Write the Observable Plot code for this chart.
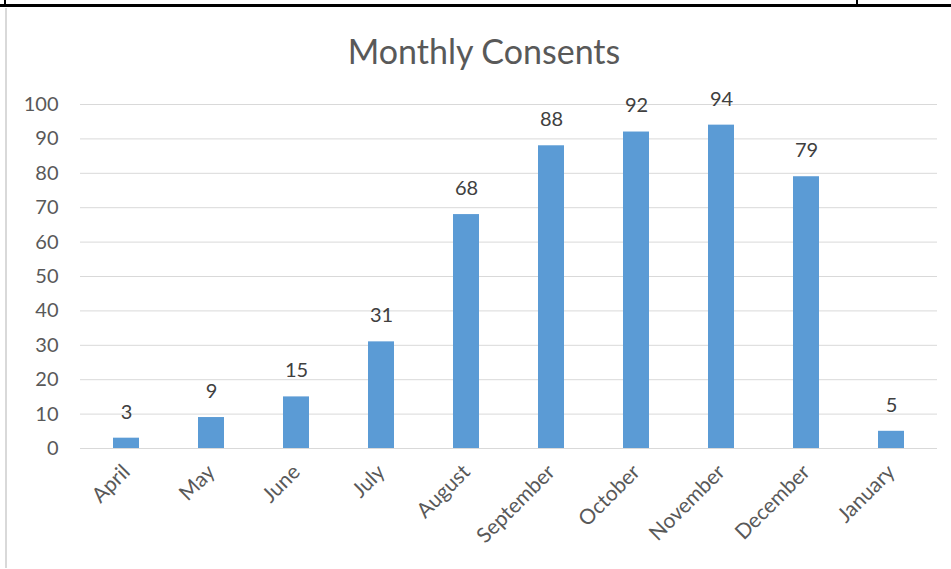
<!DOCTYPE html>
<html>
<head>
<meta charset="utf-8">
<script src="https://cdn.jsdelivr.net/npm/d3@7"></script>
<script src="https://cdn.jsdelivr.net/npm/@observablehq/plot@0.6"></script>
<style>
  html, body { margin: 0; padding: 0; background: #fff; }
  #wrap { position: relative; width: 951px; height: 569px; overflow: hidden; font-family: Lato, "Open Sans", sans-serif; }
  .blk { position: absolute; background: #000; }
  .gry { position: absolute; background: #d9d9d9; }
  #title { position: absolute; left: 0; top: 29px; width: 968px; text-align: center; font-size: 34px; color: #595959; line-height: 44px; }
  #chart { position: absolute; left: 0; top: 0; }
</style>
</head>
<body>
<div id="wrap">
  <div class="blk" style="left:0;top:4px;width:951px;height:3px"></div>
  <div class="blk" style="left:4px;top:0;width:2px;height:6px"></div>
  <div class="blk" style="left:856px;top:0;width:2px;height:6px"></div>
  <div class="gry" style="left:5px;top:8px;width:2px;height:560px"></div>
  <div id="chart"></div>
  <div id="title">Monthly Consents</div>
</div>
<script>
const months = ["April","May","June","July","August","September","October","November","December","January"];
const consents = [3, 9, 15, 31, 68, 88, 92, 94, 79, 5];
const yTicks = [0,10,20,30,40,50,60,70,80,90,100];

const data = months.map((m, i) => ({month: m, value: consents[i]}));

const chart = Plot.plot({
  width: 951,
  height: 569,
  marginLeft: 80,
  marginRight: 14,
  marginTop: 104,
  marginBottom: 121,
  style: {fontFamily: "Lato, 'Open Sans', sans-serif", fontSize: "20px", background: "transparent"},
  x: {domain: months, paddingInner: 0.7, paddingOuter: 0.35, label: null, tickSize: 0},
  y: {domain: [0, 100], label: null, ticks: yTicks, tickSize: 0},
  marks: [
    Plot.ruleY(yTicks, {stroke: "#d9d9d9", strokeWidth: 1}),
    Plot.barY(data, {x: "month", y: "value", fill: "#5b9bd5"}),
    Plot.text(data, {x: "month", y: "value", text: d => String(d.value), dy: -26, fontSize: 20, fill: "#404040"}),
    Plot.axisY({ticks: yTicks, tickSize: 0, tickPadding: 22, fontSize: 20, fill: "#595959", label: null}),
    Plot.axisX({tickSize: 0, tickRotate: -45, tickPadding: 20, fontSize: 21, fill: "#595959", label: null})
  ]
});
document.getElementById("chart").appendChild(chart);
</script>
</body>
</html>
